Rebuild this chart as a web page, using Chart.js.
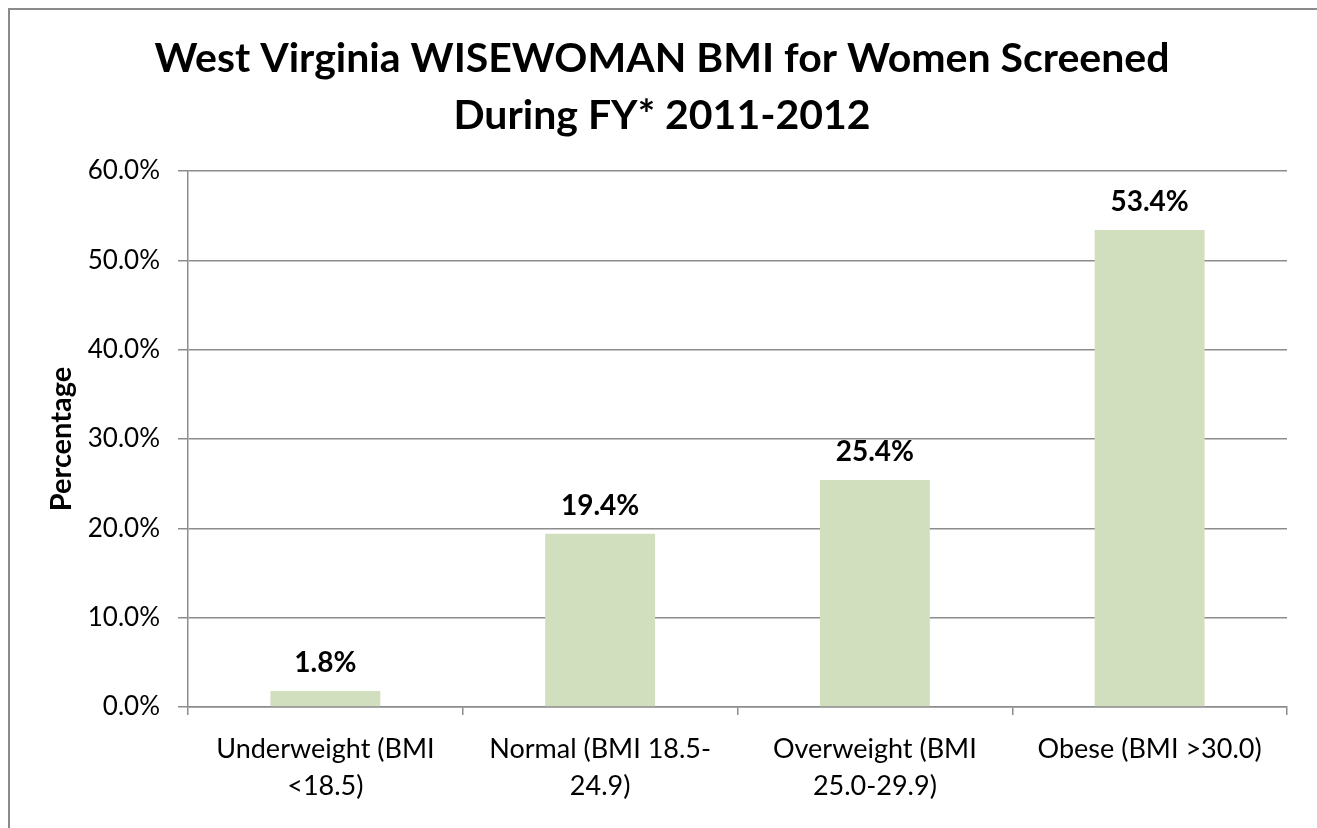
<!DOCTYPE html>
<html>
<head>
<meta charset="utf-8">
<script src="https://cdn.jsdelivr.net/npm/chart.js@4"></script>
<style>
  html, body { margin: 0; padding: 0; background: #fff; }
  #wrap { width: 1317px; height: 828px; }
</style>
</head>
<body>
<div id="wrap"><canvas id="bmiChart" width="1317" height="828"></canvas></div>
<script>
const categories = [
  ['Underweight (BMI', '<18.5)'],
  ['Normal (BMI 18.5-', '24.9)'],
  ['Overweight (BMI', '25.0-29.9)'],
  'Obese (BMI >30.0)'
];
const percentages = [1.8, 19.4, 25.4, 53.4];
const titleLines = ['West Virginia WISEWOMAN BMI for Women Screened', 'During FY* 2011-2012'];
const yMax = 60;
const yStep = 10;

const FONT = 'Lato, "Open Sans", sans-serif';
const GRID = '#8c8c8c';

// outer frame like the excel chart border
const framePlugin = {
  id: 'frame',
  beforeDraw(chart) {
    const c = chart.ctx;
    c.save();
    c.fillStyle = '#fff';
    c.fillRect(0, 0, chart.width, chart.height);
    c.strokeStyle = '#8a8a8a';
    c.lineWidth = 2;
    c.strokeRect(9, 9, chart.width + 40, chart.height + 40);
    c.restore();
  }
};

// value labels above bars
const valueLabels = {
  id: 'valueLabels',
  afterDatasetsDraw(chart) {
    const c = chart.ctx;
    const meta = chart.getDatasetMeta(0);
    c.save();
    c.font = 'bold 28px ' + FONT;
    c.fillStyle = '#000';
    c.textAlign = 'center';
    c.textBaseline = 'middle';
    meta.data.forEach((bar, i) => {
      c.fillText(percentages[i].toFixed(1) + '%', bar.x, bar.y - 28);
    });
    c.restore();
  }
};

const ctx = document.getElementById('bmiChart').getContext('2d');
const chart = new Chart(ctx, {
  type: 'bar',
  data: {
    labels: categories,
    datasets: [{
      label: 'Percentage',
      data: percentages,
      backgroundColor: '#d1dfbe',
      borderWidth: 0,
      barPercentage: 0.5,
      categoryPercentage: 0.8
    }]
  },
  options: {
    responsive: false,
    animation: false,
    layout: { padding: { left: 37, right: 30, top: 0, bottom: 0 } },
    plugins: {
      legend: { display: false },
      tooltip: { enabled: false },
      title: {
        display: true,
        text: titleLines,
        color: '#000',
        font: { family: FONT, size: 41, weight: 'bold', lineHeight: 1.39 },
        padding: { top: 30, bottom: 27 }
      }
    },
    scales: {
      x: {
        grid: { drawOnChartArea: false, drawTicks: true, tickLength: 8, color: GRID, lineWidth: 1.5, offset: true },
        border: { color: GRID, width: 1.5 },
        ticks: {
          color: '#000',
          font: { family: FONT, size: 27, lineHeight: 1.37 },
          padding: 16,
          maxRotation: 0,
          autoSkip: false
        },
        afterFit(scale) { scale.height = 121; }
      },
      y: {
        min: 0,
        max: yMax,
        grid: { color: GRID, tickLength: 10, lineWidth: 1.5 },
        border: { color: GRID, width: 1.5 },
        ticks: {
          stepSize: yStep,
          color: '#000',
          font: { family: FONT, size: 26 },
          padding: 18,
          callback: v => v.toFixed(1) + '%'
        },
        title: {
          display: true,
          text: 'Percentage',
          color: '#000',
          font: { family: FONT, size: 29, weight: 'bold', lineHeight: 1.2 },
          padding: { top: 7, bottom: 0 }
        },
        afterFit(scale) { scale.width = 151; }
      }
    }
  },
  plugins: [framePlugin, valueLabels]
});
</script>
</body>
</html>
